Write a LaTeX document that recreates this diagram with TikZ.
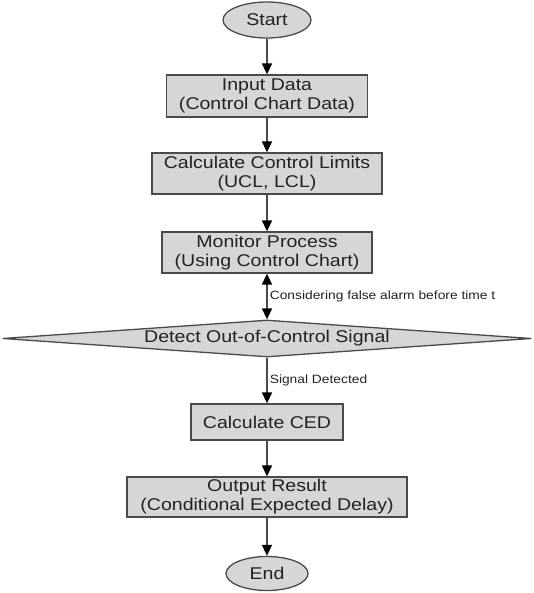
\documentclass[tikz,border=0pt]{standalone}
\usepackage{fontspec}
\setmainfont{Liberation Sans}[FakeStretch=1.15]
\usetikzlibrary{shapes.geometric,arrows.meta}
\definecolor{boxfill}{HTML}{D6D6D6}
\definecolor{edgegray}{HTML}{4A4A4A}
\definecolor{inkgray}{HTML}{222222}
\begin{document}
\begin{tikzpicture}[x=1pt,y=-1pt,
  font=\fontsize{17}{19}\selectfont, text=inkgray,
  process/.style={draw=edgegray, line width=1.3pt, fill=boxfill, align=center, inner sep=0pt},
  terminal/.style={ellipse, draw=edgegray, line width=1.3pt, fill=boxfill, inner sep=0pt},
  decision/.style={diamond, draw=edgegray, line width=1.3pt, fill=boxfill, inner sep=0pt, aspect=14.3},
  flow/.style={draw=edgegray, line width=1.6pt, -{Triangle[width=10pt,length=11pt,color=black]}},
  note/.style={font=\fontsize{12}{14}\selectfont, anchor=west, inner sep=1pt, xshift=1pt}]
  \useasboundingbox (0,0) rectangle (533,593);
  \node[terminal, minimum width=88pt, minimum height=36pt] (start) at (267,20) {Start};
  \node[process, minimum width=201pt, minimum height=42pt] (input) at (267,96) {Input Data\\(Control Chart Data)};
  \node[process, minimum width=230pt, minimum height=41pt] (limits) at (267,173.5) {Calculate Control Limits\\(UCL, LCL)};
  \node[process, minimum width=210pt, minimum height=41pt] (monitor) at (267,252.5) {Monitor Process\\(Using Control Chart)};
  \node[decision, minimum width=529pt, minimum height=37pt] (detect) at (267,338.5) {Detect Out-of-Control Signal};
  \node[process, minimum width=152pt, minimum height=36pt] (ced) at (267,422) {Calculate CED};
  \node[process, minimum width=280pt, minimum height=40pt] (output) at (267,497) {Output Result\\(Conditional Expected Delay)};
  \node[terminal, minimum width=82pt, minimum height=34pt] (end) at (267,573.5) {End};

  \draw[flow] (start) -- (input);
  \draw[flow] (input) -- (limits);
  \draw[flow] (limits) -- (monitor);
  \draw[flow, {Triangle[width=10pt,length=11pt,color=black]}-{Triangle[width=10pt,length=11pt,color=black]}] (monitor) -- (detect)
    node[note, midway] {Considering false alarm before time t};
  \draw[flow] (detect) -- (ced) node[note, midway] {Signal Detected};
  \draw[flow] (ced) -- (output);
  \draw[flow] (output) -- (end);
\end{tikzpicture}
\end{document}
